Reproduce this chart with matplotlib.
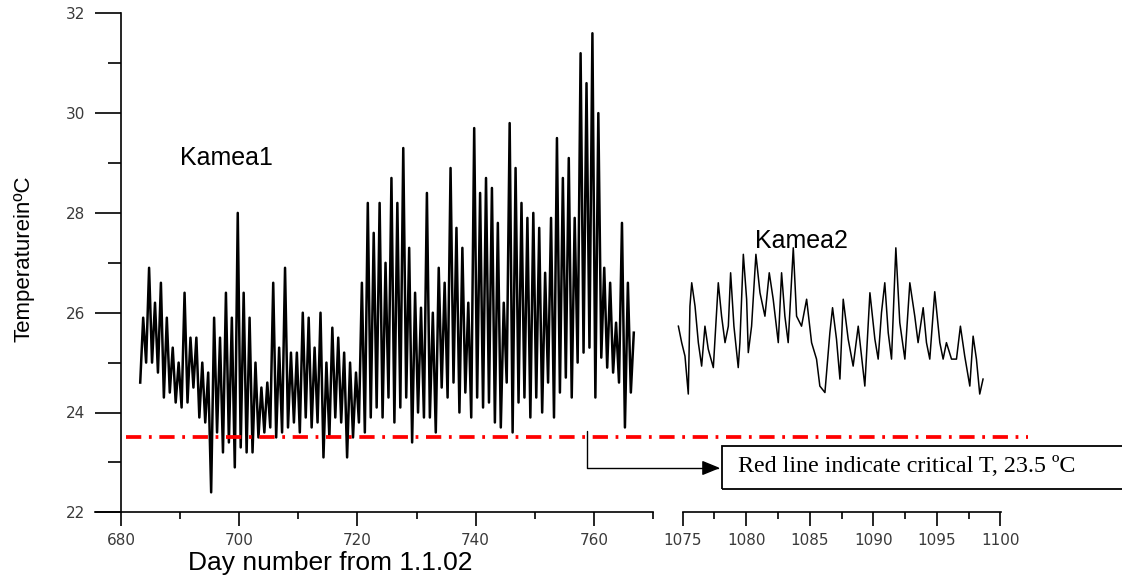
import matplotlib

matplotlib.use("Agg")
import matplotlib.pyplot as plt
import matplotlib.transforms as mtransforms
from matplotlib.lines import Line2D
from matplotlib.patches import Rectangle
from matplotlib.ticker import MultipleLocator

plt.rcParams["lines.scale_dashes"] = False

# ---- data ------------------------------------------------------------------
# Kamea1: one daily minimum and one daily maximum, days 683..766
k1_first_day = 683
k1_min = [
    24.6, 25.0, 25.0, 24.8, 24.3, 24.4, 24.2, 24.1, 24.2, 24.5,
    23.9, 23.8, 22.4, 23.6, 23.2, 23.4, 22.9, 23.3, 23.2, 23.2,
    23.5, 23.6, 23.7, 23.5, 23.6, 23.7, 23.8, 23.6, 23.9, 23.7,
    23.8, 23.1, 23.5, 23.9, 23.8, 23.1, 23.5, 23.8, 23.6, 23.9,
    24.1, 23.9, 24.3, 23.8, 24.1, 24.3, 23.4, 24.0, 23.9, 23.9,
    23.6, 24.5, 24.3, 24.6, 24.0, 24.4, 23.9, 24.3, 24.1, 24.2,
    23.8, 23.7, 24.6, 23.6, 24.2, 24.3, 23.9, 24.3, 24.0, 24.6,
    23.9, 24.4, 24.7, 24.3, 25.0, 25.2, 25.3, 24.3, 25.1, 24.9,
    24.8, 24.6, 23.7, 24.4,
]
k1_max = [
    25.9, 26.9, 26.2, 26.6, 25.9, 25.3, 25.0, 26.4, 25.5, 25.5,
    25.0, 24.8, 25.9, 25.5, 26.4, 25.9, 28.0, 26.4, 25.9, 25.0,
    24.5, 24.6, 26.6, 25.3, 26.9, 25.2, 25.2, 26.0, 25.9, 25.3,
    26.0, 25.0, 25.7, 25.5, 25.2, 25.0, 24.8, 26.6, 28.2, 27.6,
    28.2, 27.0, 28.7, 28.2, 29.3, 27.3, 26.4, 26.1, 28.4, 26.0,
    26.9, 26.6, 28.9, 27.7, 27.3, 26.2, 29.7, 28.4, 28.7, 28.5,
    27.8, 26.2, 29.8, 28.9, 28.2, 27.9, 28.0, 27.7, 26.8, 27.9,
    29.5, 28.7, 29.1, 27.9, 31.2, 30.6, 31.6, 30.0, 26.9, 26.6,
    25.8, 27.8, 26.6, 25.6,
]

# Kamea2: traced points (day, temperature)
k2_day = [
    1074.66, 1074.92, 1075.18, 1075.44, 1075.57, 1075.71, 1075.97, 1076.23,
    1076.49, 1076.75, 1077.01, 1077.41, 1077.80, 1078.06, 1078.33, 1078.59,
    1078.77, 1079.03, 1079.37, 1079.50, 1079.77, 1080.03, 1080.16, 1080.42,
    1080.76, 1081.08, 1081.47, 1081.81, 1082.12, 1082.52, 1082.78, 1083.04,
    1083.30, 1083.70, 1083.96, 1084.35, 1084.75, 1085.14, 1085.53, 1085.79,
    1086.19, 1086.58, 1086.79, 1087.10, 1087.37, 1087.63, 1088.02, 1088.41,
    1088.81, 1089.33, 1089.73, 1090.12, 1090.38, 1090.64, 1090.90, 1091.17,
    1091.43, 1091.77, 1092.08, 1092.48, 1092.87, 1093.26, 1093.52, 1093.92,
    1094.18, 1094.44, 1094.83, 1095.23, 1095.49, 1095.75, 1096.15, 1096.54,
    1096.85, 1097.19, 1097.59, 1097.85, 1098.11, 1098.37, 1098.63,
]
k2_temp = [
    25.73, 25.40, 25.13, 24.37, 26.13, 26.60, 26.13, 25.40,
    24.93, 25.73, 25.27, 24.90, 26.60, 25.93, 25.40, 25.73,
    26.80, 25.73, 24.90, 25.40, 27.17, 26.27, 25.20, 25.73,
    27.17, 26.40, 25.93, 26.80, 26.27, 25.40, 26.80, 25.93,
    25.40, 27.30, 25.93, 25.73, 26.27, 25.40, 25.07, 24.53,
    24.40, 25.60, 26.10, 25.47, 24.67, 26.27, 25.47, 24.93,
    25.73, 24.53, 26.40, 25.47, 25.07, 26.00, 26.60, 25.60,
    25.07, 27.30, 25.80, 25.07, 26.60, 25.93, 25.40, 26.10,
    25.40, 25.07, 26.42, 25.40, 25.07, 25.40, 25.07, 25.07,
    25.73, 25.13, 24.53, 25.53, 25.07, 24.37, 24.67,
]

critical_t = 23.5
y_ticks = [22, 24, 26, 28, 30, 32]

# ---- figure ----------------------------------------------------------------
W, H = 1122, 579
fig = plt.figure(figsize=(W / 100, H / 100), dpi=100)


def rect_px(x0, y0, x1, y1):
    """axes rectangle from top-left pixel coordinates"""
    return [x0 / W, 1 - y1 / H, (x1 - x0) / W, (y1 - y0) / H]


ax1 = fig.add_axes(rect_px(95, 13.3, 653.3, 512.3))
ax2 = fig.add_axes(rect_px(682.7, 13.3, 1000.7, 512.3))

tick_font = dict(family="DejaVu Sans", size=11, color="#3a3a3a")

# Kamea1 - min then max for every day
k1_x, k1_y = [], []
for i, (lo, hi) in enumerate(zip(k1_min, k1_max)):
    d = k1_first_day + i
    k1_x += [d + 0.25, d + 0.75]
    k1_y += [lo, hi]
ax1.plot(k1_x, k1_y, color="black", lw=1.8)
ax2.plot(k2_day, k2_temp, color="black", lw=1.1, clip_on=False)

for ax in (ax1, ax2):
    ax.set_ylim(22, 32)
    ax.spines["top"].set_visible(False)
    ax.spines["right"].set_visible(False)
    ax.spines["bottom"].set_linewidth(1.2)
    ax.tick_params(axis="x", which="major", direction="out", length=10, width=1.2,
                   pad=5, labelsize=tick_font["size"], labelcolor=tick_font["color"])
    ax.tick_params(axis="x", which="minor", direction="out", length=5, width=1.2)
    ax.patch.set_visible(False)

ax1.set_xlim(675.6, 770.05)
ax1.xaxis.set_major_locator(MultipleLocator(20))
ax1.xaxis.set_minor_locator(MultipleLocator(10))
ax1.spines["left"].set_position(("data", 680))
ax1.spines["left"].set_linewidth(1.2)
ax1.set_yticks(y_ticks)
ax1.yaxis.set_minor_locator(MultipleLocator(1))
ax1.tick_params(axis="y", which="major", direction="out", length=18.5, width=1.2,
                pad=7, labelsize=tick_font["size"], labelcolor=tick_font["color"])
ax1.tick_params(axis="y", which="minor", direction="out", length=9.4, width=1.2)

ax2.set_xlim(1075, 1100.02)
ax2.xaxis.set_major_locator(MultipleLocator(5))
ax2.xaxis.set_minor_locator(MultipleLocator(2.5))
ax2.spines["left"].set_visible(False)
ax2.set_yticks([])

for lab in ax1.get_xticklabels() + ax1.get_yticklabels() + ax2.get_xticklabels():
    lab.set_family(tick_font["family"])

# red critical-temperature line across both panels
red_tr = mtransforms.blended_transform_factory(fig.transFigure, ax1.transData)
fig.add_artist(Line2D([126 / W, 1028 / W], [critical_t, critical_t], transform=red_tr,
                      color="#ff0000", lw=2.7, linestyle=(0, (11, 5.5, 2, 5.5))))

# annotation box
ax1.annotate(
    "", xy=(720 / W, 1 - 468 / H), xycoords="figure fraction",
    xytext=(758.8, 23.62), textcoords="data",
    arrowprops=dict(arrowstyle="-|>,head_length=1.1,head_width=0.45",
                    connectionstyle="angle,angleA=90,angleB=0,rad=0",
                    color="black", lw=1.0, mutation_scale=10,
                    shrinkA=0, shrinkB=0),
    annotation_clip=False,
)
fig.add_artist(Rectangle((722 / W, 1 - 489 / H), (1140 - 722) / W, 43.3 / H,
                         transform=fig.transFigure, fill=False, lw=1.3,
                         edgecolor="black", clip_on=False))
fig.text(738 / W, 1 - 467 / H, "Red line indicate critical T, 23.5 ºC",
         family="Liberation Serif", fontsize=17.3, va="center", ha="left")

# labels
fig.text(180 / W, 1 - 158 / H, "Kamea1", family="Liberation Sans", fontsize=18,
         va="center", ha="left")
fig.text(755 / W, 1 - 241 / H, "Kamea2", family="Liberation Sans", fontsize=18,
         va="center", ha="left")
fig.text(188 / W, 1 - 570 / H, "Day number from 1.1.02", family="Liberation Sans",
         fontsize=19, va="baseline", ha="left")
fig.text(24 / W, 1 - 259 / H, "TemperatureinºC", family="Liberation Sans",
         fontsize=16, rotation=90, va="center", ha="center")

fig.savefig("out.png", dpi=100)
